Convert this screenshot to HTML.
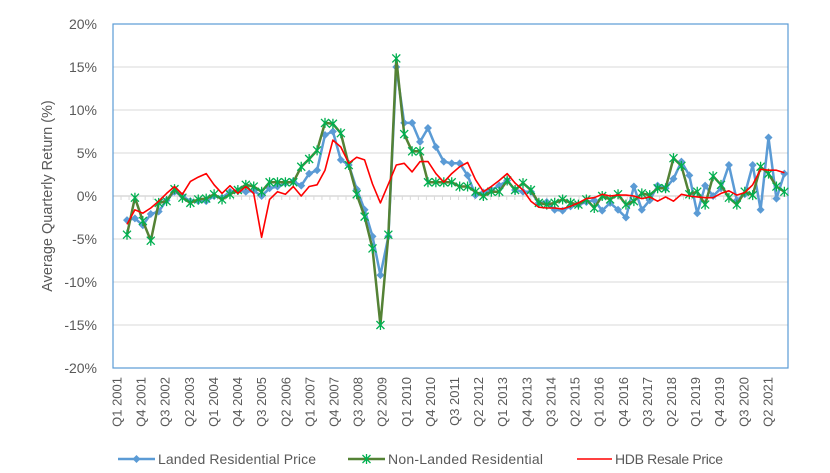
<!DOCTYPE html>
<html><head><meta charset="utf-8"><style>
html,body{margin:0;padding:0;background:#fff;}
svg text{font-family:"Liberation Sans",Arial,sans-serif;fill:#595959;}
</style></head><body>
<svg id="c" width="830" height="468" xmlns="http://www.w3.org/2000/svg"></svg>
<script>
const L=[-2.8,-2.6,-3.4,-2.1,-1.8,-0.5,0.5,0,-0.6,-0.6,-0.6,0,-0.2,0.5,0.6,0.5,0.6,0,0.9,1.1,1.5,1.7,1.2,2.6,3.0,7.1,7.5,4.2,3.6,0.8,-1.6,-4.7,-9.2,-4.7,15,8.5,8.5,6.3,7.9,5.7,4.0,3.8,3.8,2.4,0.1,0.4,0.7,1.2,1.8,0.7,0.5,0.5,-0.8,-0.7,-1.6,-1.7,-1.2,-1.0,-0.7,-0.5,-1.7,-0.8,-1.6,-2.5,1.1,-1.6,-0.5,1.2,0.9,2.0,4.0,2.4,-2.0,1.2,0,0.9,3.6,-0.5,0.2,3.6,-1.6,6.8,-0.3,2.6];
const N=[-4.5,-0.2,-2.9,-5.2,-0.8,-0.6,0.8,-0.2,-0.8,-0.4,-0.3,0.2,-0.4,0.2,0.7,1.3,1.1,0.5,1.6,1.6,1.6,1.6,3.4,4.3,5.3,8.5,8.4,7.3,3.6,0.2,-2.4,-6.1,-15,-4.5,16,7.2,5.2,5.2,1.6,1.6,1.6,1.6,1.1,1.1,0.5,0,0.5,0.5,1.8,0.7,1.5,0.7,-0.8,-1.0,-0.8,-0.4,-0.8,-1.0,-0.4,-1.4,0,-0.4,0.2,-1.0,-0.6,0.3,0.1,0.9,0.9,4.4,3.5,0.2,0.5,-1.0,2.3,1.3,-0.2,-1.0,0.5,0.1,3.4,2.6,1.1,0.5];
const H=[-3.3,-1.6,-2.0,-1.4,-0.6,0.3,1.1,0.2,1.7,2.2,2.6,1.3,0.3,1.2,0.3,1.1,0.3,-4.8,-0.4,0.5,0.2,1.1,0,1.1,1.3,3.0,6.5,5.7,3.8,4.5,4.2,1.4,-0.8,1.4,3.6,3.8,2.8,4.0,4.0,2.6,1.6,2.6,3.4,3.9,1.9,0.5,1.1,1.8,2.6,1.5,0.7,-0.6,-1.3,-1.4,-1.4,-1.5,-1.2,-0.8,-0.3,-0.2,0.2,0,0.1,0.1,0,-0.3,-0.1,-0.6,-0.1,-0.6,0.2,0,-0.1,-0.2,-0.2,0.3,0.6,0.1,0.4,1.3,3.1,3.0,3.0,2.7];
const X0=113,X1=788,Y0=24,Y1=368,W=(X1-X0)/84;
const px=i=>127+7.92*i, py=v=>196-v*8.6;
let s='';
for(let k=-20;k<=20;k+=5){const y=py(k);
 if(k!==0&&k!==20&&k!==-20)s+=`<line x1="${X0}" x2="${X1}" y1="${y}" y2="${y}" stroke="#d9d9d9" stroke-width="1"/>`;
 s+=`<text x="97" y="${y+5}" font-size="14" text-anchor="end">${k}%</text>`;}
s+=`<line x1="${X0}" x2="${X1}" y1="196" y2="196" stroke="#d9d9d9" stroke-width="1.5"/>`;
for(let i=0;i<=84;i++){const x=X0+W*i;s+=`<line x1="${x}" x2="${x}" y1="196" y2="200" stroke="#d9d9d9"/>`;}
s+=`<rect x="${X0}" y="${Y0}" width="${X1-X0}" height="${Y1-Y0}" fill="none" stroke="#5b9bd5" stroke-width="1.2"/>`;
for(let i=0;i<84;i+=3){const q=i%4+1,yr=2001+Math.floor(i/4);const x=X0+W*(i+0.5)+4.5;
 s+=`<text transform="translate(${x},377) rotate(-90)" font-size="13" text-anchor="end">Q${q} ${yr}</text>`;}
s+=`<text transform="translate(52,196) rotate(-90)" font-size="14.5" text-anchor="middle">Average Quarterly Return (%)</text>`;
const pl=(a,c,w)=>`<polyline fill="none" stroke="${c}" stroke-width="${w}" stroke-linejoin="round" points="${a.map((v,i)=>px(i).toFixed(1)+','+py(v).toFixed(1)).join(' ')}"/>`;
const dia=(x,y)=>`<path d="M${x} ${y-4}L${x+4} ${y}L${x} ${y+4}L${x-4} ${y}Z" fill="#5b9bd5"/>`;
const star=(x,y)=>`<path d="M${x-4} ${y-4}L${x+4} ${y+4}M${x-4} ${y+4}L${x+4} ${y-4}M${x} ${y-5}L${x} ${y+5}" stroke="#00b050" stroke-width="1.3"/>`;
s+=pl(L,'#5b9bd5',2.5);L.forEach((v,i)=>s+=dia(px(i),py(v)));
s+=pl(N,'#548235',2.5);N.forEach((v,i)=>s+=star(px(i),py(v)));
s+=pl(H,'#ff0000',1.6);
s+=`<line x1="118" x2="155" y1="459" y2="459" stroke="#5b9bd5" stroke-width="2.5"/>`+dia(136.5,459)+`<text x="158" y="464" font-size="14" textLength="158">Landed Residential Price</text>`;
s+=`<line x1="348" x2="385" y1="459" y2="459" stroke="#548235" stroke-width="2.5"/>`+star(366.5,459)+`<text x="388" y="464" font-size="14" textLength="155">Non-Landed Residential</text>`;
s+=`<line x1="577" x2="612" y1="459" y2="459" stroke="#ff0000" stroke-width="1.6"/><text x="615" y="464" font-size="14" textLength="108">HDB Resale Price</text>`;
document.getElementById('c').innerHTML=s;
</script>
</body></html>
